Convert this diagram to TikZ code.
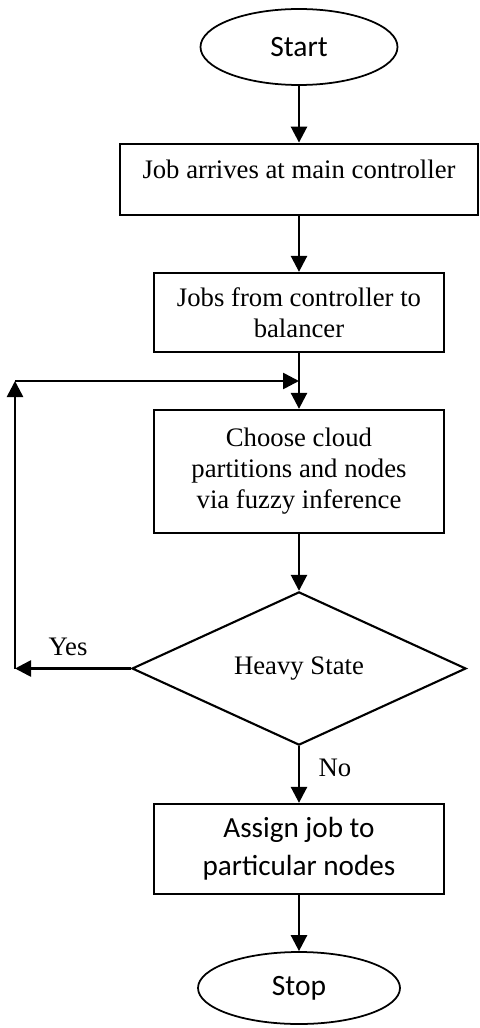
\documentclass[tikz,border=0pt]{standalone}
\usepackage{fontspec}
\setmainfont{Liberation Serif}
\newfontfamily\calibri{Carlito}
\usetikzlibrary{shapes.geometric,arrows.meta}

\begin{document}
\begin{tikzpicture}[
    every node/.style={font=\fontsize{15.2}{17.6}\selectfont},
    terminal/.style={ellipse,draw,line width=1pt,inner sep=0pt,font=\calibri\fontsize{16.8}{22}\selectfont},
    stepbox/.style={rectangle,draw,line width=1.3pt,align=center,inner sep=0pt},
    decision/.style={diamond,draw,line width=1.2pt,inner sep=0pt,minimum width=6.68cm,minimum height=3.06cm},
    arr/.style={line width=1.5pt,-{Triangle[length=0.32cm,width=0.32cm]}}
  ]
    \useasboundingbox (0,0) rectangle (9.58,-20.56);

    \node[terminal,minimum width=3.94cm,minimum height=1.52cm] (start) at (5.98,-0.94) {Start};
    \node[stepbox,line width=1.6pt,minimum width=7.16cm,minimum height=1.42cm,text depth=0.4cm] (arrive) at (5.98,-3.59) {Job arrives at main controller};
    \node[stepbox,minimum width=5.8cm,minimum height=1.58cm] (balance) at (5.98,-6.25) {Jobs from controller to\\balancer};
    \node[stepbox,minimum width=5.8cm,minimum height=2.46cm] (choose) at (5.98,-9.43) {Choose cloud\\partitions and nodes\\via fuzzy inference};
    \node[decision] (heavy) at (5.98,-13.37) {Heavy State};
    \node[stepbox,font=\calibri\fontsize{16.6}{21.8}\selectfont,minimum width=5.8cm,minimum height=1.8cm] (assign) at (5.98,-16.98) {Assign job to\\particular nodes};
    \node[terminal,minimum width=4.04cm,minimum height=1.44cm] (stop) at (5.98,-19.76) {Stop};

    \coordinate (loop) at (5.98,-7.62);
    \coordinate (corner) at (0.30,-7.62);
    \coordinate (yesend) at (0.30,-13.37);

    \draw[arr] (start) -- (arrive);
    \draw[arr] (arrive) -- (balance);
    \draw[arr] (balance) -- (choose);
    \draw[arr] (choose) -- (heavy);
    \draw[arr] (heavy) -- (assign);
    \draw[arr] (assign) -- (stop);

    % loop back when heavy
    \draw[arr] (heavy) -- (yesend);
    \draw[arr] (yesend) -- (corner);
    \draw[arr] (corner) -- (loop);

    \node (yes) at (1.36,-12.94) {Yes};
    \node (no) at (6.70,-15.36) {No};
\end{tikzpicture}
\end{document}
